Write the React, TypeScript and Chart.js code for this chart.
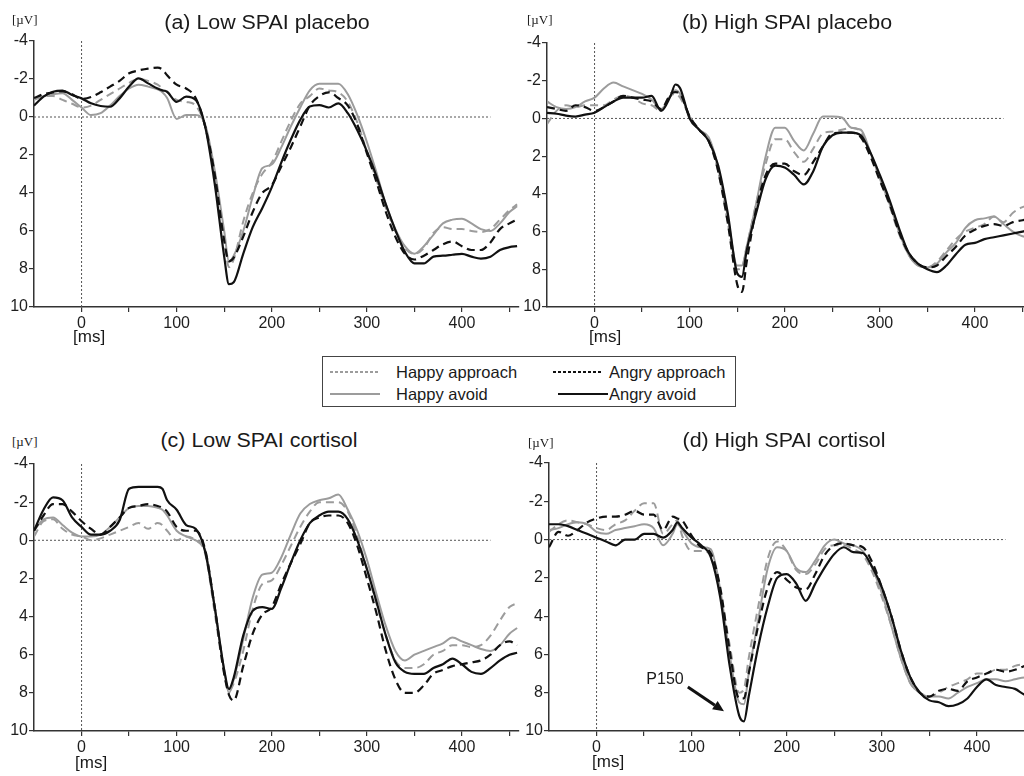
import React, { useEffect, useRef } from "react";
import { Chart, registerables } from "chart.js";
Chart.register(...registerables);

// ---------- data ----------
const TIMES = [-50, -40, -30, -20, -10, 0, 10, 20, 30, 40, 50, 60, 70, 80, 85, 90, 100, 110, 120, 130, 140, 150, 155, 160, 170, 180, 190, 200, 210, 220, 230, 240, 250, 260, 270, 280, 290, 300, 310, 320, 330, 340, 350, 360, 370, 380, 390, 400, 410, 420, 430, 440, 450, 458];
const X_TICKS = [0, 50, 100, 150, 200, 250, 300, 350, 400, 450];
const Y_TICKS = [-4, -2, 0, 2, 4, 6, 8, 10];
const ZERO_LINE_X = [-50, 430];
const ONSET_LINE_Y = [-4, 10];
const SERIES_NAMES = ["Happy approach", "Angry approach", "Happy avoid", "Angry avoid"];

const A_ANGRY_AVOID = [-0.6, -1.07, -1.33, -1.39, -1.16, -0.98, -0.72, -0.58, -0.54, -0.98, -1.6, -2.03, -1.77, -1.5, -1.4, -1.33, -0.8, -1.07, -0.9, 0.5, 3.5, 7.35, 8.8, 8.7, 7.2, 5.8, 4.8, 3.7, 2.4, 1.2, 0.15, -0.55, -0.63, -0.5, -0.72, -0.2, 0.7, 1.8, 3.1, 4.6, 5.95, 7.1, 7.7, 7.7, 7.35, 7.3, 7.25, 7.2, 7.35, 7.45, 7.35, 7.0, 6.85, 6.8];
const A_ANGRY_APPROACH = [-1.0, -1.2, -1.3, -1.35, -1.2, -0.95, -1.05, -1.3, -1.6, -1.9, -2.3, -2.45, -2.55, -2.6, -2.5, -2.2, -1.7, -1.5, -1.0, 0.5, 3.0, 6.5, 7.6, 7.4, 6.3, 5.0, 4.0, 3.6, 2.6, 1.6, 0.5, -0.6, -1.1, -1.3, -1.0, -0.6, 0.4, 1.9, 3.4, 5.0, 6.3, 7.2, 7.5, 7.3, 7.0, 6.7, 6.55, 6.8, 7.0, 7.0, 6.6, 5.9, 5.6, 5.4];
const A_HAPPY_AVOID = [-0.9, -1.1, -1.2, -1.25, -0.9, -0.5, -0.1, -0.2, -0.6, -1.1, -1.5, -1.7, -1.6, -1.45, -1.3, -1.0, 0.1, -0.1, -0.1, 0.4, 2.8, 6.0, 7.6, 7.3, 6.0, 4.2, 2.7, 2.5, 1.6, 0.5, -0.5, -1.4, -1.75, -1.75, -1.75, -1.2, -0.1, 1.3, 2.9, 4.6, 5.9, 6.8, 7.2, 6.8, 6.2, 5.6, 5.4, 5.35, 5.6, 5.9, 6.0, 5.6, 5.0, 4.7];
const A_HAPPY_APPROACH = [-1.0, -1.1, -1.1, -0.9, -0.7, -0.5, -0.6, -0.9, -1.2, -1.5, -1.8, -2.0, -1.9, -1.7, -1.5, -1.3, -0.9, -0.8, -0.6, 0.5, 3.0, 6.5, 7.9, 7.5, 5.5, 4.0, 3.0, 2.4, 1.3, 0.2, -0.7, -1.1, -1.5, -1.4, -1.3, -0.8, 0.3, 1.8, 3.3, 4.8, 6.0, 6.9, 7.2, 6.9, 6.1, 5.8, 5.9, 5.9, 6.0, 6.05, 5.9, 5.4, 4.9, 4.6];

const B_ANGRY_AVOID = [-0.3, -0.25, -0.15, -0.1, -0.2, -0.3, -0.6, -0.9, -1.1, -1.1, -1.1, -1.2, -0.4, -1.2, -1.8, -1.6, 0.0, 0.6, 1.2, 2.5, 5.0, 8.2, 8.4, 7.0, 5.0, 3.2, 2.5, 2.6, 3.0, 3.5, 2.8, 1.5, 0.9, 0.75, 0.75, 0.9, 1.8, 3.0, 4.3, 5.8, 7.1, 7.7, 8.0, 8.15, 7.8, 7.2, 6.7, 6.6, 6.4, 6.3, 6.2, 6.1, 6.0, 5.9];
const B_ANGRY_APPROACH = [-0.6, -0.5, -0.4, -0.7, -0.6, -0.4, -0.6, -0.9, -1.2, -1.1, -1.0, -0.9, -0.5, -1.3, -1.4, -1.3, -0.1, 0.6, 1.2, 2.8, 5.5, 8.8, 9.2, 7.6, 4.8, 3.0, 2.4, 2.4, 2.8, 3.0, 2.3, 1.5, 0.8, 0.75, 0.75, 1.0, 2.0, 3.3, 4.5, 6.0, 7.1, 7.7, 7.9, 7.8, 7.3, 6.8, 6.2, 5.9, 5.7, 5.6, 5.7, 5.5, 5.4, 5.3];
const B_HAPPY_AVOID = [-0.9, -0.6, -0.5, -0.6, -0.9, -1.1, -1.6, -1.9, -1.7, -1.5, -1.3, -1.0, -0.5, -1.2, -1.5, -1.3, -0.1, 0.6, 1.0, 2.6, 5.2, 7.8, 7.8, 6.8, 4.5, 2.0, 0.5, 0.5, 1.2, 1.7, 0.8, -0.1, -0.1, -0.05, 0.5, 0.6, 1.8, 3.2, 4.5, 6.0, 7.2, 7.8, 7.9, 7.7, 7.1, 6.6, 5.8, 5.4, 5.3, 5.2, 5.6, 6.0, 6.25, 6.3];
const B_HAPPY_APPROACH = [0.3, -0.4, -0.7, -0.6, -0.7, -0.7, -0.7, -1.0, -1.2, -1.1, -0.8, -0.7, -0.4, -1.2, -1.3, -1.1, -0.1, 0.6, 1.1, 2.8, 5.5, 8.0, 7.9, 6.8, 4.5, 2.4, 1.1, 1.1, 1.8, 2.3, 1.6, 0.8, 0.7, 0.6, 0.5, 0.7, 1.9, 3.2, 4.6, 6.1, 7.2, 7.8, 7.9, 7.6, 7.0, 6.4, 6.0, 5.8, 5.6, 5.2, 5.5, 5.0, 4.7, 4.6];

const C_ANGRY_AVOID = [-0.5, -1.6, -2.25, -2.1, -1.2, -0.7, -0.3, -0.3, -0.5, -1.05, -2.7, -2.8, -2.8, -2.8, -2.7, -2.1, -1.6, -0.8, -0.6, 0.6, 3.5, 6.8, 7.8, 7.2, 5.0, 3.7, 3.5, 3.6, 2.5, 1.2, 0.0, -0.9, -1.3, -1.5, -1.5, -1.1, 0.0, 1.5, 3.2, 5.0, 6.4, 6.9, 7.0, 7.0, 6.7, 6.5, 6.2, 6.5, 6.9, 7.0, 6.7, 6.3, 6.0, 5.9];
const C_ANGRY_APPROACH = [-0.5, -1.3, -1.9, -1.9, -1.5, -1.0, -0.6, -0.3, -0.7, -1.2, -1.7, -1.8, -1.9, -1.8, -1.7, -1.5, -0.7, -0.5, -0.5, 0.5, 3.5, 7.0, 8.1, 8.4, 6.6, 4.9, 3.9, 3.5, 2.3, 1.2, 0.2, -0.9, -1.2, -1.3, -1.3, -0.9, 0.3, 2.0, 3.8, 5.8, 7.3, 8.0, 8.0, 7.6, 7.0, 6.8, 6.6, 6.5, 6.4, 6.3, 6.0, 5.5, 5.3, 5.5];
const C_HAPPY_AVOID = [-0.5, -1.1, -1.2, -0.8, -0.4, -0.2, -0.2, -0.3, -0.7, -1.2, -1.7, -1.8, -1.8, -1.7, -1.6, -1.3, -0.5, -0.2, 0.0, 0.5, 3.5, 6.8, 8.0, 7.3, 5.2, 3.0, 1.8, 1.7, 0.9, -0.3, -1.4, -1.9, -2.1, -2.2, -2.4, -1.6, -0.5, 1.0, 2.8, 4.5, 5.8, 6.3, 6.0, 5.8, 5.6, 5.4, 5.1, 5.3, 5.5, 5.7, 5.8, 5.5, 4.9, 4.6];
const C_HAPPY_APPROACH = [-0.2, -1.0, -1.1, -0.6, -0.3, -0.2, 0.0, -0.1, -0.3, -0.5, -0.7, -0.9, -0.6, -0.9, -0.8, -0.5, 0.0, -0.2, 0.0, 0.7, 3.8, 7.0, 7.9, 7.5, 5.8, 3.6, 2.3, 2.1, 1.3, 0.3, -0.7, -1.5, -2.0, -2.0, -2.0, -1.5, -0.2, 1.5, 3.3, 5.0, 6.3, 6.7, 6.7, 6.5, 6.0, 5.8, 5.5, 5.5, 5.6, 5.5, 5.0, 4.2, 3.5, 3.3];

const D_ANGRY_AVOID = [-0.8, -0.8, -0.7, -0.5, -0.3, -0.1, 0.1, 0.3, 0.0, 0.0, -0.3, -0.3, -0.1, -0.5, -0.9, -0.6, -0.1, 0.3, 0.9, 3.0, 6.6, 9.2, 9.5, 8.2, 5.6, 3.5, 2.0, 1.8, 2.3, 3.2, 2.3, 1.45, 0.75, 0.4, 0.66, 0.7, 1.45, 2.5, 4.0, 5.8, 7.2, 8.0, 8.4, 8.5, 8.7, 8.6, 8.3, 7.7, 7.3, 7.6, 7.7, 7.8, 8.1, 8.2];
const D_ANGRY_APPROACH = [0.4, -0.4, -0.2, -0.5, -0.9, -1.1, -1.2, -1.2, -1.3, -1.5, -1.3, -1.3, -0.5, -1.2, -1.1, -1.0, -0.2, 0.4, 0.7, 2.5, 5.8, 8.3, 8.3, 7.0, 4.5, 2.5, 1.7, 2.1, 2.5, 2.6, 1.8, 0.8, 0.3, 0.2, 0.3, 0.4, 1.2, 2.5, 4.0, 5.8, 7.2, 8.0, 8.2, 7.9, 7.8, 7.9, 7.4, 7.2, 7.0, 6.8, 6.9, 6.8, 6.6, 6.4];
const D_HAPPY_AVOID = [-0.5, -0.6, -0.8, -0.9, -0.8, -0.4, -0.3, -0.5, -0.6, -0.7, -0.8, -0.6, 0.3, -0.3, -0.8, -0.5, 0.2, 0.4, 0.5, 2.6, 6.0, 8.5, 8.6, 7.0, 4.2, 1.5, 0.4, 0.6, 1.5, 1.7, 1.1, 0.3, 0.0, 0.2, 0.3, 0.6, 1.5, 2.8, 4.5, 6.2, 7.5, 8.0, 8.2, 8.2, 8.3, 8.0, 7.7, 7.5, 7.3, 7.3, 7.4, 7.3, 7.2, 7.2];
const D_HAPPY_APPROACH = [-0.4, -0.8, -1.0, -0.9, -0.8, -0.6, -0.5, -0.8, -1.0, -1.5, -1.9, -1.9, -0.3, -0.8, -1.0, -0.2, 0.6, 0.6, 0.8, 2.8, 5.5, 8.0, 7.8, 6.2, 3.5, 1.0, 0.1, 0.6, 1.6, 1.8, 1.3, 0.5, 0.3, 0.3, 0.5, 0.8, 1.7, 3.0, 4.5, 6.2, 7.5, 8.0, 8.2, 8.0, 7.7, 7.5, 7.3, 7.0, 7.0, 6.8, 6.8, 6.6, 6.5, 6.4];

// annotation in panel (d), data units
const P150_LABEL = { text: "P150", t: 72, v: 7.3 };
const P150_ARROW_FROM = { t: 96, v: 7.7 };
const P150_ARROW_TO = { t: 134, v: 8.97 };

// ---------- styles / layout ----------
const FONT = "'Liberation Sans', Arial, Helvetica, sans-serif";
const BLACK = "#111111";
const GREY = "#9c9c9c";
const AXIS = "#333333";
const Y_AXIS_W = 40;
const PAD_TOP = 12;
const PAD_RIGHT = 12;
const X_AXIS_H = 30;

const PANELS = [
  { title: "(a) Low SPAI placebo", left: 34, top: 41, w: 485, h: 266, titleX: 267, titleBase: 29, uvX: 12, uvBase: 24, msX: 73, msBase: 342,
    ha: A_HAPPY_APPROACH, aa: A_ANGRY_APPROACH, hv: A_HAPPY_AVOID, av: A_ANGRY_AVOID, p150: false },
  { title: "(b) High SPAI placebo", left: 547, top: 43, w: 485, h: 264, titleX: 787, titleBase: 29, uvX: 527, uvBase: 24, msX: 589, msBase: 342,
    ha: B_HAPPY_APPROACH, aa: B_ANGRY_APPROACH, hv: B_HAPPY_AVOID, av: B_ANGRY_AVOID, p150: false },
  { title: "(c) Low SPAI cortisol", left: 34, top: 464, w: 485, h: 267, titleX: 259, titleBase: 447, uvX: 12, uvBase: 446, msX: 75, msBase: 768,
    ha: C_HAPPY_APPROACH, aa: C_ANGRY_APPROACH, hv: C_HAPPY_AVOID, av: C_ANGRY_AVOID, p150: false },
  { title: "(d) High SPAI cortisol", left: 549, top: 463, w: 485, h: 268, titleX: 784, titleBase: 447, uvX: 528, uvBase: 447, msX: 592, msBase: 767,
    ha: D_HAPPY_APPROACH, aa: D_ANGRY_APPROACH, hv: D_HAPPY_AVOID, av: D_ANGRY_AVOID, p150: true },
];

const pts = (vals: number[]) => TIMES.map((t, i) => ({ x: t, y: vals[i] }));

const p150Plugin = {
  id: "p150",
  afterDatasetsDraw(chart: any) {
    const xs = chart.scales.x;
    const ys = chart.scales.y;
    const ctx = chart.ctx;
    ctx.save();
    ctx.fillStyle = "#1a1a1a";
    ctx.font = `16px ${FONT}`;
    ctx.textAlign = "center";
    ctx.textBaseline = "middle";
    ctx.fillText(P150_LABEL.text, xs.getPixelForValue(P150_LABEL.t), ys.getPixelForValue(P150_LABEL.v));
    const x0 = xs.getPixelForValue(P150_ARROW_FROM.t);
    const y0 = ys.getPixelForValue(P150_ARROW_FROM.v);
    const x1 = xs.getPixelForValue(P150_ARROW_TO.t);
    const y1 = ys.getPixelForValue(P150_ARROW_TO.v);
    const ang = Math.atan2(y1 - y0, x1 - x0);
    const head = 11;
    const hx = x1 - head * Math.cos(ang);
    const hy = y1 - head * Math.sin(ang);
    ctx.strokeStyle = "#111";
    ctx.lineWidth = 3;
    ctx.beginPath();
    ctx.moveTo(x0, y0);
    ctx.lineTo(hx, hy);
    ctx.stroke();
    ctx.beginPath();
    ctx.moveTo(x1, y1);
    ctx.lineTo(hx + 5 * Math.sin(ang), hy - 5 * Math.cos(ang));
    ctx.lineTo(hx - 5 * Math.sin(ang), hy + 5 * Math.cos(ang));
    ctx.closePath();
    ctx.fillStyle = "#111";
    ctx.fill();
    ctx.restore();
  },
};

function Panel({ p }: { p: any }) {
  const ref = useRef<HTMLCanvasElement | null>(null);
  const cw = Y_AXIS_W + p.w + PAD_RIGHT;
  const ch = PAD_TOP + p.h + X_AXIS_H;
  useEffect(() => {
    if (!ref.current) return;
    const line = (label: string, vals: number[], color: string, dash: number[], width: number) => ({
      label,
      data: pts(vals),
      borderColor: color,
      borderWidth: width,
      borderDash: dash,
      pointRadius: 0,
      fill: false,
      cubicInterpolationMode: "monotone",
    });
    const ref0 = (data: any[]) => ({
      label: "ref",
      data,
      borderColor: "#555",
      borderWidth: 1,
      borderDash: [2, 2],
      pointRadius: 0,
      tension: 0,
      fill: false,
    });
    const chart = new Chart(ref.current, {
      type: "line",
      data: {
        datasets: [
          line(SERIES_NAMES[3], p.av, BLACK, [], 2.2),
          line(SERIES_NAMES[1], p.aa, BLACK, [8, 5], 2.2),
          line(SERIES_NAMES[2], p.hv, GREY, [], 2),
          line(SERIES_NAMES[0], p.ha, GREY, [8, 5], 2),
          ref0(ZERO_LINE_X.map((x) => ({ x, y: 0 }))),
          ref0(ONSET_LINE_Y.map((y) => ({ x: 0, y }))),
        ] as any,
      },
      options: {
        responsive: false,
        animation: false,
        devicePixelRatio: 1,
        events: [],
        layout: { padding: { top: PAD_TOP, right: PAD_RIGHT, left: 0, bottom: 0 } },
        plugins: { legend: { display: false }, tooltip: { enabled: false }, title: { display: false } },
        scales: {
          x: {
            type: "linear",
            min: -50,
            max: 460,
            afterBuildTicks: (s: any) => { s.ticks = X_TICKS.map((v) => ({ value: v })); },
            afterFit: (s: any) => { s.height = X_AXIS_H; },
            ticks: {
              autoSkip: false,
              maxRotation: 0,
              padding: 2,
              color: "#1e1e1e",
              font: { family: FONT, size: 16 },
              callback: (v: any) => (Number(v) % 100 === 0 ? String(v) : ""),
            },
            grid: { drawOnChartArea: false, drawTicks: true, tickLength: 5, color: AXIS, lineWidth: 1.2 },
            border: { display: true, color: AXIS, width: 1.5 },
          },
          y: {
            reverse: true,
            min: -4,
            max: 10,
            afterBuildTicks: (s: any) => { s.ticks = Y_TICKS.map((v) => ({ value: v })); },
            afterFit: (s: any) => { s.width = Y_AXIS_W; },
            ticks: {
              padding: 1,
              color: "#1e1e1e",
              font: { family: FONT, size: 16 },
              callback: (v: any) => String(v),
            },
            grid: { drawOnChartArea: false, drawTicks: true, tickLength: 5, color: AXIS, lineWidth: 1.2 },
            border: { display: true, color: AXIS, width: 1.5 },
          },
        },
      } as any,
      plugins: p.p150 ? [p150Plugin] : [],
    });
    return () => chart.destroy();
  }, []);
  return (
    <canvas
      ref={ref}
      width={cw}
      height={ch}
      style={{ position: "absolute", left: p.left - Y_AXIS_W, top: p.top - PAD_TOP, width: cw, height: ch, display: "block" }}
    />
  );
}

function TextAt({ x, base, size, family, children, center, scaleX }: any) {
  const top = base - 0.8465 * size;
  const style: any = {
    position: "absolute",
    top,
    fontSize: size,
    lineHeight: `${size}px`,
    fontFamily: family || FONT,
    color: "#1a1a1a",
    whiteSpace: "nowrap",
  };
  if (center) {
    style.left = x - 200;
    style.width = 400;
    style.textAlign = "center";
    if (scaleX) { style.transform = `scaleX(${scaleX})`; style.transformOrigin = "center"; }
  } else {
    style.left = x;
  }
  return <div style={style}>{children}</div>;
}

function Sample({ x, y, color, dotted }: any) {
  return (
    <svg style={{ position: "absolute", left: x, top: y - 3, overflow: "visible" }} width={50} height={6}>
      <line x1={0} y1={3} x2={50} y2={3} stroke={color} strokeWidth={dotted ? 2 : 2.2} strokeDasharray={dotted ? "3,2" : undefined} />
    </svg>
  );
}

export default function App() {
  return (
    <div style={{ position: "fixed", left: 0, top: 0, width: 1024, height: 776, overflow: "hidden", background: "#fff" }}>
      {PANELS.map((p, i) => (
        <Panel key={i} p={p} />
      ))}
      {PANELS.map((p, i) => (
        <React.Fragment key={"t" + i}>
          <TextAt x={p.titleX} base={p.titleBase} size={20} center scaleX={1.07}>{p.title}</TextAt>
          <TextAt x={p.uvX} base={p.uvBase} size={13} family="'Liberation Serif', 'Times New Roman', serif">[µV]</TextAt>
          <TextAt x={p.msX} base={p.msBase} size={17}>[ms]</TextAt>
        </React.Fragment>
      ))}
      <div style={{ position: "absolute", left: 322, top: 356, width: 414, height: 51, border: "1.5px solid #444", boxSizing: "border-box" }} />
      <Sample x={330} y={372} color={GREY} dotted />
      <Sample x={330} y={394} color={GREY} />
      <Sample x={553} y={372} color={BLACK} dotted />
      <Sample x={558} y={394} color={BLACK} />
      <TextAt x={396} base={378} size={16.5}>{SERIES_NAMES[0]}</TextAt>
      <TextAt x={396} base={400} size={16.5}>{SERIES_NAMES[2]}</TextAt>
      <TextAt x={609} base={378} size={16.5}>{SERIES_NAMES[1]}</TextAt>
      <TextAt x={609} base={400} size={16.5}>{SERIES_NAMES[3]}</TextAt>
    </div>
  );
}
